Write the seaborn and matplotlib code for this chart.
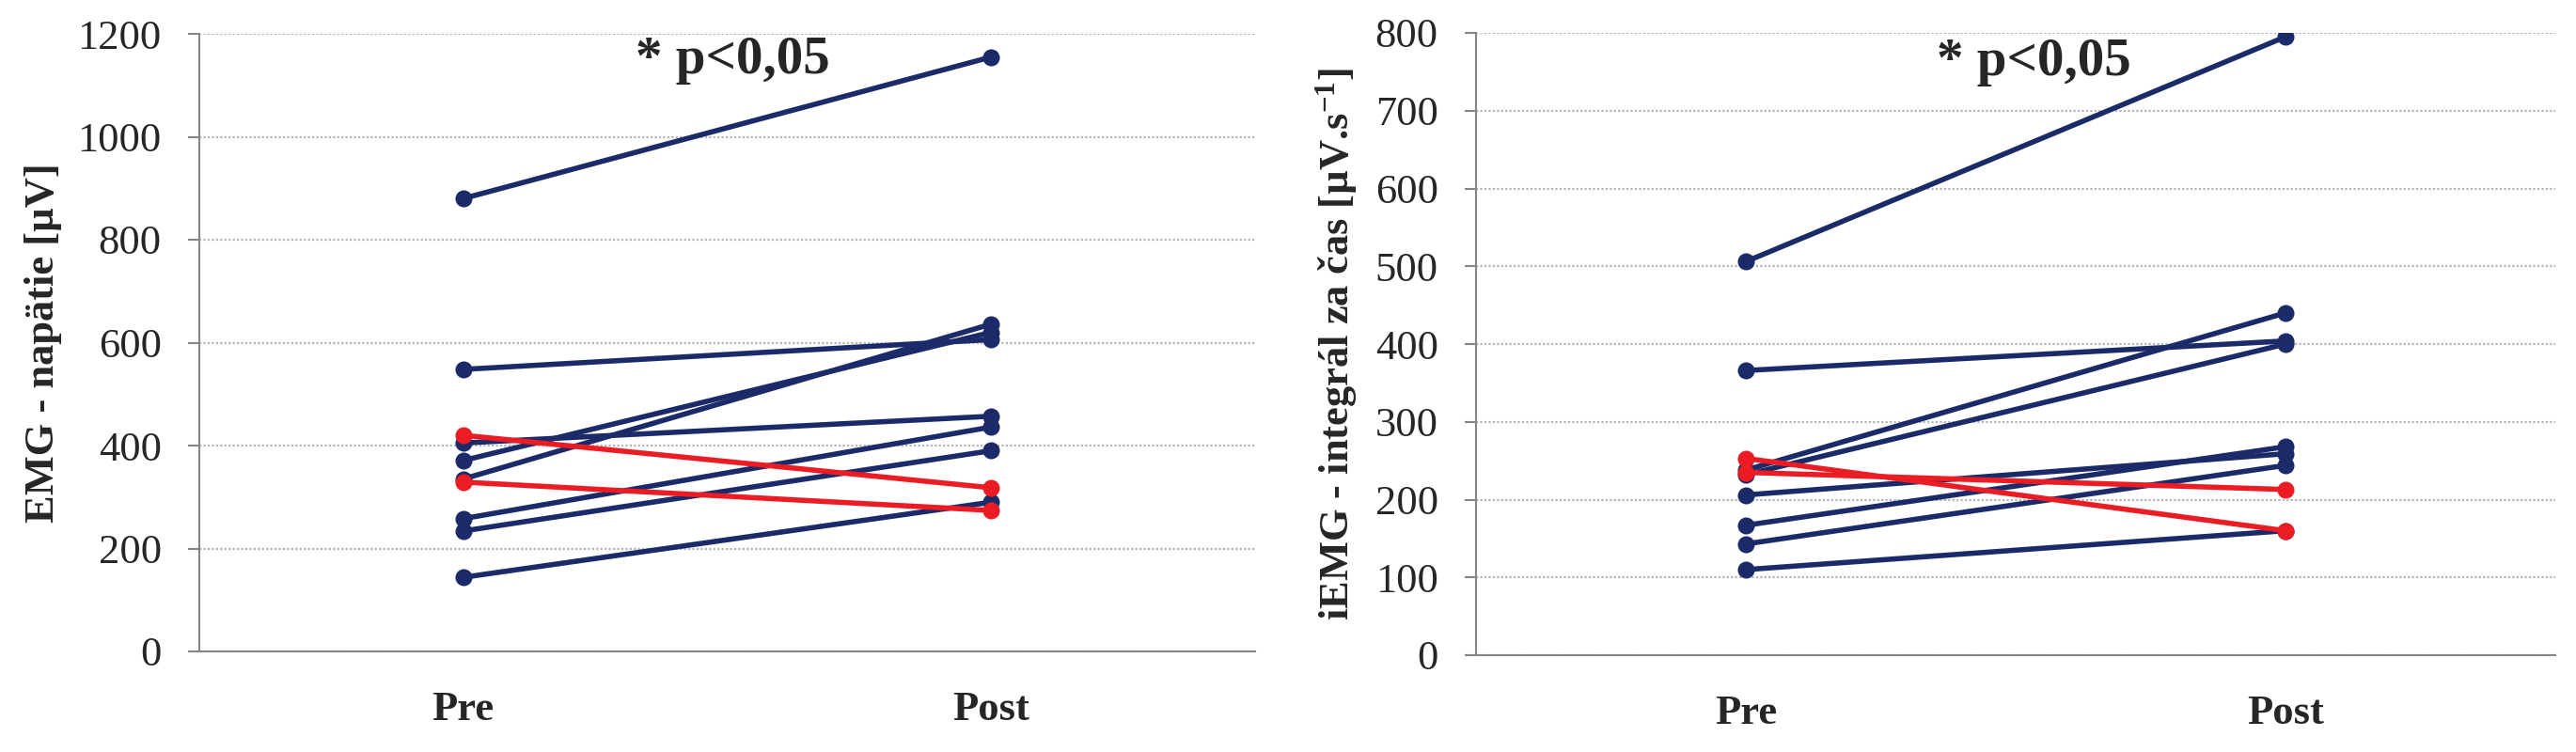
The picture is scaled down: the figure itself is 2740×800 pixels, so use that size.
import numpy as np
import pandas as pd
import matplotlib
matplotlib.use('Agg')
import matplotlib.pyplot as plt
import matplotlib.transforms as mtransforms
import seaborn as sns

# values (10 subjects, Pre -> Post)
subjects = ['S1', 'S2', 'S3', 'S4', 'S5', 'S6', 'S7', 'S8', 'S9', 'S10']
trend = ['up'] * 8 + ['down'] * 2

emg_pre = [880, 548, 405, 371, 335, 258, 234, 144, 420, 329]
emg_post = [1155, 606, 457, 620, 636, 436, 390, 290, 318, 274]

iemg_pre = [506, 366, 238, 232, 206, 167, 143, 110, 253, 235]
iemg_post = [795, 404, 440, 400, 259, 268, 244, 160, 160, 213]

time_labels = ['Pre', 'Post']
emg_ticks = [0, 200, 400, 600, 800, 1000, 1200]
iemg_ticks = [0, 100, 200, 300, 400, 500, 600, 700, 800]

navy = '#1b2a68'
red = '#ec1c24'
axis_gray = '#868686'

sns.set_style('white')
plt.rcParams['font.family'] = ['Liberation Serif', 'DejaVu Serif']
plt.rcParams['mathtext.fontset'] = 'custom'
plt.rcParams['mathtext.rm'] = 'Liberation Serif'
plt.rcParams['mathtext.bf'] = 'Liberation Serif:bold'
plt.rcParams['mathtext.default'] = 'bf'


def long_table(pre, post):
    n = len(subjects)
    return pd.DataFrame({
        'subject': subjects * 2,
        'time': [time_labels[0]] * n + [time_labels[1]] * n,
        'value': pre + post,
        'trend': trend * 2,
    })


def draw_panel(ax, pre, post, ticks, ylabel, ann_x, ann_y):
    df = long_table(pre, post)
    sns.lineplot(data=df, x='time', y='value', units='subject', estimator=None,
                 hue='trend', hue_order=['up', 'down'],
                 palette={'up': navy, 'down': red},
                 marker='o', markersize=13, markeredgewidth=0,
                 linewidth=4, legend=False, sort=False, ax=ax)

    ax.set_xlim(-0.5, 1.5)
    ax.set_ylim(ticks[0], ticks[-1])
    ax.set_yticks(ticks)
    ax.set_xticks([0, 1])
    ax.set_xticklabels(time_labels, fontsize=32, fontweight='bold')
    ax.set_xticks([-0.5, 0.5, 1.5], minor=True)
    ax.tick_params(axis='x', which='major', length=0, pad=30)
    ax.tick_params(axis='x', which='minor', length=9, width=1.5,
                   color=axis_gray, direction='out')
    ax.tick_params(axis='y', length=9, width=1.5, color=axis_gray,
                   direction='out', pad=20, labelsize=32, left=True)

    ax.yaxis.grid(True, linestyle=(0, (1, 1)), color='#b5b5b5', linewidth=1.6)
    ax.xaxis.grid(False)
    ax.set_axisbelow(True)

    for side in ['top', 'right']:
        ax.spines[side].set_visible(False)
    for side in ['left', 'bottom']:
        ax.spines[side].set_color(axis_gray)
        ax.spines[side].set_linewidth(1.5)

    ax.set_xlabel('')
    ax.set_ylabel(ylabel, fontsize=32, fontweight='bold', labelpad=12)

    trans = mtransforms.blended_transform_factory(ax.transAxes, ax.transData)
    ax.text(ann_x, ann_y, '* p<0,05', transform=trans, ha='center',
            va='center', fontsize=41, fontweight='bold')


fig = plt.figure(figsize=(27.4, 8), dpi=100)
ax1 = fig.add_axes([212 / 2740, 1 - 693 / 800, (1335 - 212) / 2740, (693 - 36) / 800])
ax2 = fig.add_axes([1570 / 2740, 1 - 697 / 800, (2718 - 1570) / 2740, (697 - 35) / 800])

draw_panel(ax1, emg_pre, emg_post, emg_ticks,
           'EMG - napätie [µV]', 0.505, 1148)
draw_panel(ax2, iemg_pre, iemg_post, iemg_ticks,
           'iEMG - integrál za čas [µV.s$^{-1}$]', 0.517, 762)

fig.savefig('out.png', dpi=100, facecolor='white')
